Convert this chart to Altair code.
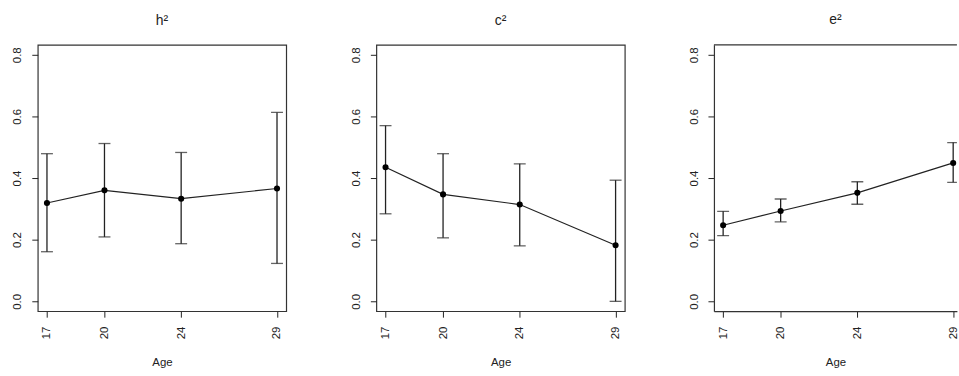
import altair as alt
import pandas as pd

ages = [17, 20, 24, 29]
components = ["h²", "c²", "e²"]

h2_est = [0.319, 0.360, 0.333, 0.366]
h2_low = [0.161, 0.209, 0.187, 0.123]
h2_up = [0.479, 0.512, 0.483, 0.613]

c2_est = [0.435, 0.347, 0.314, 0.182]
c2_low = [0.284, 0.206, 0.180, 0.000]
c2_up = [0.570, 0.479, 0.446, 0.393]

e2_est = [0.247, 0.293, 0.352, 0.449]
e2_low = [0.213, 0.258, 0.315, 0.386]
e2_up = [0.292, 0.332, 0.388, 0.515]

y_ticks = [0.0, 0.2, 0.4, 0.6, 0.8]

series = {
    "h²": (h2_est, h2_low, h2_up),
    "c²": (c2_est, c2_low, c2_up),
    "e²": (e2_est, e2_low, e2_up),
}

FONT = "Liberation Sans"
INK = "#222222"
FRAME = "#333333"
Y_DOM = [-0.032, 0.832]


def panel(name, cut=False):
    est, low, up = series[name]
    df = pd.DataFrame({"age": ages, "est": est, "low": low, "up": up})
    width = 244.5 if cut else 250
    x_dom = [16.52, 16.52 + 12.96 * width / 250]
    x = alt.X(
        "age:Q",
        scale=alt.Scale(domain=x_dom, nice=False, zero=False),
        axis=alt.Axis(
            values=ages, title="Age", grid=False, domain=cut,
            domainColor=FRAME, domainWidth=1.2,
            labelAngle=-90, labelAlign="right", labelBaseline="middle",
            tickSize=6, labelPadding=9, tickColor=INK, labelColor=INK,
            labelFont=FONT, labelFontSize=11.5, titleFont=FONT,
            titleFontSize=11.5, titleFontWeight="normal", titleColor=INK,
            titlePadding=18, format="d",
        ),
    )
    y = alt.Y(
        "est:Q",
        scale=alt.Scale(domain=Y_DOM, nice=False, zero=False),
        axis=alt.Axis(
            values=y_ticks, title=None, grid=False, domain=cut,
            domainColor=FRAME, domainWidth=1.2,
            labelAngle=-90, labelAlign="center", labelBaseline="bottom",
            tickSize=6, labelPadding=9, tickColor=INK, labelColor=INK,
            labelFont=FONT, labelFontSize=11.5, format=".1f",
            minExtent=31, maxExtent=31,
        ),
    )
    base = alt.Chart(df)
    line = base.mark_line(color=INK, strokeWidth=1.2, clip=cut).encode(x=x, y=y)
    pts = base.mark_circle(color="black", size=38, opacity=1,
                           clip=cut).encode(x=x, y=y)
    bars = base.mark_rule(color=INK, strokeWidth=1.3, clip=cut).encode(
        x=x, y=alt.Y("low:Q"), y2=alt.Y2("up:Q"))
    cap_lo = base.mark_tick(color=INK, orient="horizontal", size=12,
                            thickness=1.3, clip=cut).encode(
        x=x, y=alt.Y("low:Q"))
    cap_hi = base.mark_tick(color=INK, orient="horizontal", size=12,
                            thickness=1.3, clip=cut).encode(
        x=x, y=alt.Y("up:Q"))
    layers = [bars, cap_lo, cap_hi, line, pts]
    props = dict(
        width=width, height=268,
        title=alt.TitleParams(
            name, font=FONT, fontSize=14, fontWeight="normal", color=INK,
            anchor="middle", frame="group", offset=6, baseline="alphabetic",
        ),
    )
    if cut:
        top = alt.Chart(pd.DataFrame({"top": [Y_DOM[1]]})).mark_rule(
            color=FRAME, strokeWidth=1.2).encode(y=alt.Y("top:Q"))
        layers.append(top)
        props["view"] = alt.ViewBackground(stroke=None)
    return alt.layer(*layers).properties(**props)


chart = alt.hconcat(
    panel(components[0]), panel(components[1]), panel(components[2], cut=True),
    spacing=57.7,
).properties(
    padding={"left": 6, "top": 12, "right": 0, "bottom": 0},
).configure(background="white").configure_view(
    stroke=FRAME, strokeWidth=1.2
)

chart.save("out.html", embed_options={"renderer": "svg", "actions": False})
